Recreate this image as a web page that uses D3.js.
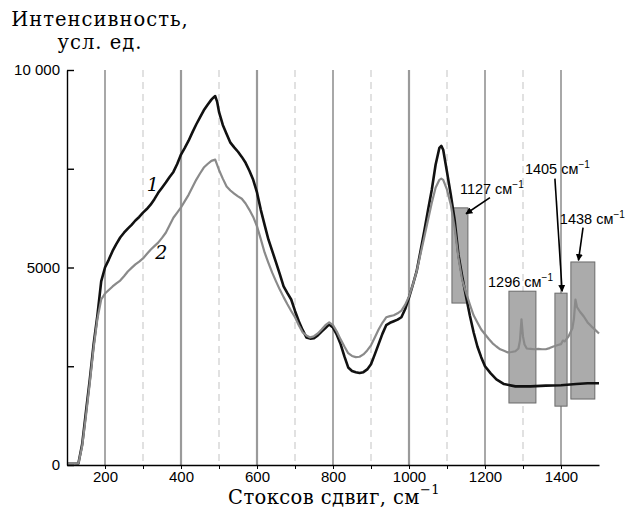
<!DOCTYPE html>
<html>
<head>
<meta charset="utf-8">
<script src="https://cdn.jsdelivr.net/npm/d3@7"></script>
<style>
  body { margin: 0; background: #fff; }
  svg { display: block; }
</style>
</head>
<body>
<script>
// curve 1 (black)
const shift1 = [100, 120, 130, 140, 150, 160, 170, 180, 190, 200, 210, 220, 230, 240, 250, 260, 270, 280, 290, 300,
  310, 320, 330, 340, 350, 360, 370, 380, 390, 400, 410, 420, 430, 440, 450, 460, 470, 480, 485, 490,
  495, 500, 510, 520, 530, 540, 550, 560, 570, 580, 590, 600, 610, 620, 630, 640, 650, 660, 670, 680,
  690, 700, 710, 720, 730, 740, 750, 760, 770, 780, 790, 800, 810, 820, 830, 840, 850, 860, 870, 880,
  890, 900, 910, 920, 930, 940, 950, 960, 970, 980, 990, 1000, 1010, 1020, 1030, 1040, 1050, 1060, 1070, 1080,
  1085, 1090, 1100, 1110, 1120, 1130, 1140, 1150, 1160, 1170, 1180, 1190, 1200, 1215, 1230, 1250, 1280, 1320, 1360, 1400,
  1440, 1470, 1500]
const intensity1 = [30, 30, 40, 530, 1360, 2170, 3055, 3790, 4650, 5000, 5200, 5420, 5600, 5760, 5880, 5985, 6080, 6190, 6280, 6390,
  6480, 6590, 6730, 6890, 7020, 7150, 7290, 7420, 7620, 7860, 8030, 8210, 8420, 8620, 8800, 8980, 9120, 9250, 9300, 9340,
  9200, 8940, 8610, 8380, 8160, 8040, 7930, 7800, 7650, 7450, 7220, 6900, 6460, 6080, 5710, 5420, 5130, 4830, 4520, 4350,
  4190, 3900, 3640, 3420, 3230, 3200, 3210, 3280, 3380, 3470, 3560, 3480, 3300, 3060, 2750, 2470, 2380, 2350, 2330, 2350,
  2420, 2550, 2800, 3060, 3320, 3540, 3600, 3640, 3680, 3740, 3950, 4240, 4560, 4900, 5400, 5910, 6450, 6970, 7600, 8030,
  8080, 7980, 7420, 6840, 6210, 5330, 4770, 4270, 3790, 3360, 3000, 2730, 2500, 2320, 2170, 2050, 1990, 1990, 2010, 2020,
  2050, 2070, 2070]

// curve 2 (grey)
const shift2 = [100, 120, 130, 140, 150, 160, 170, 180, 190, 200, 210, 220, 230, 240, 250, 260, 270, 280, 290, 300,
  310, 320, 330, 340, 350, 360, 370, 380, 390, 400, 410, 420, 430, 440, 450, 460, 470, 480, 490, 500,
  510, 520, 530, 540, 550, 560, 570, 580, 590, 600, 610, 620, 630, 640, 650, 660, 670, 680, 690, 700,
  710, 720, 730, 740, 750, 760, 770, 780, 790, 800, 810, 820, 830, 840, 850, 860, 870, 880, 890, 900,
  910, 920, 930, 940, 950, 960, 970, 980, 990, 1000, 1010, 1020, 1030, 1040, 1050, 1060, 1070, 1080, 1085, 1090,
  1100, 1110, 1120, 1130, 1140, 1150, 1160, 1170, 1180, 1190, 1200, 1210, 1220, 1230, 1240, 1250, 1260, 1270, 1280, 1288,
  1292, 1296, 1300, 1304, 1310, 1320, 1330, 1340, 1350, 1360, 1370, 1380, 1390, 1400, 1405, 1410, 1420, 1430, 1434, 1438,
  1442, 1450, 1460, 1470, 1480, 1490, 1500]
const intensity2 = [30, 30, 40, 480, 1250, 2080, 2960, 3700, 4190, 4340, 4430, 4520, 4600, 4670, 4780, 4900, 4990, 5080, 5150, 5230,
  5340, 5450, 5540, 5630, 5750, 5880, 6070, 6260, 6390, 6520, 6680, 6840, 7030, 7220, 7380, 7530, 7620, 7700, 7730, 7470,
  7250, 7050, 6950, 6870, 6800, 6740, 6620, 6460, 6280, 6040, 5720, 5380, 5120, 4870, 4650, 4440, 4250, 4070, 3900, 3740,
  3540, 3360, 3280, 3230, 3260, 3330, 3430, 3540, 3610, 3540, 3380, 3180, 3000, 2830, 2760, 2730, 2740, 2800, 2900, 3030,
  3230, 3430, 3600, 3740, 3770, 3790, 3840, 3910, 4060, 4270, 4560, 4900, 5330, 5760, 6200, 6640, 7020, 7220, 7250, 7220,
  6970, 6590, 6000, 5250, 4680, 4370, 4070, 3790, 3610, 3430, 3310, 3190, 3080, 3000, 2930, 2890, 2850, 2860, 2880, 2950,
  3150, 3690, 3250, 3050, 2950, 2940, 2930, 2940, 2930, 2930, 2960, 3000, 3030, 3060, 3150, 3130, 3260, 3460, 3700, 4190,
  4000, 3880, 3760, 3610, 3510, 3420, 3330]

// highlighted bands: label, shift range, intensity range
const bandNames = ['1127', '1296', '1405', '1438']
const bandFrom = [1113, 1263, 1384, 1426]
const bandTo = [1155, 1334, 1416, 1489]
const bandLow = [4100, 1570, 1490, 1670]
const bandHigh = [6510, 4400, 4350, 5140]

const majorGrid = [200, 400, 600, 800, 1000, 1200, 1400]
const minorGrid = [300, 500, 700, 900, 1100, 1300]
const yTicks = [0, 2500, 5000, 7500, 10000]
const yTickLabels = ['0', '', '5000', '', '10 000']

const width = 626
const height = 512

const svg = d3.select('body')
  .append('svg')
  .attr('width', width)
  .attr('height', height)

const xScale = d3.scaleLinear().domain([100, 1500]).range([67, 599])
const yScale = d3.scaleLinear().domain([0, 10000]).range([465, 70])

const defs = svg.append('defs')
defs.append('marker')
  .attr('id', 'arrow')
  .attr('viewBox', '0 0 10 10')
  .attr('refX', 9)
  .attr('refY', 5)
  .attr('markerWidth', 7)
  .attr('markerHeight', 7)
  .attr('markerUnits', 'userSpaceOnUse')
  .attr('orient', 'auto')
  .append('path')
  .attr('d', 'M0,0 L10,5 L0,10 z')
  .attr('fill', '#000')

// grid
const thick = [400, 600, 1000]
svg.append('g').selectAll('line')
  .data(majorGrid)
  .enter()
  .append('line')
  .attr('x1', d => xScale(d))
  .attr('x2', d => xScale(d))
  .attr('y1', yScale(10000))
  .attr('y2', yScale(0))
  .attr('stroke', d => thick.includes(d) ? '#9a9a9a' : '#6e6e6e')
  .attr('stroke-width', d => thick.includes(d) ? 2.2 : 1.2)

svg.append('g').selectAll('line')
  .data(minorGrid)
  .enter()
  .append('line')
  .attr('x1', d => xScale(d))
  .attr('x2', d => xScale(d))
  .attr('y1', yScale(10000))
  .attr('y2', yScale(0))
  .attr('stroke', '#d2d2d2')
  .attr('stroke-width', 1.3)
  .attr('stroke-dasharray', '7,5')

// bands
svg.append('g').selectAll('rect')
  .data(bandNames)
  .enter()
  .append('rect')
  .attr('x', (d, i) => xScale(bandFrom[i]))
  .attr('y', (d, i) => yScale(bandHigh[i]))
  .attr('width', (d, i) => xScale(bandTo[i]) - xScale(bandFrom[i]))
  .attr('height', (d, i) => yScale(bandLow[i]) - yScale(bandHigh[i]))
  .attr('fill', '#ababab')
  .attr('stroke', '#6a6a6a')
  .attr('stroke-width', 1)

// curves
const line = d3.line()
  .x(d => xScale(d[0]))
  .y(d => yScale(d[1]))

svg.append('path')
  .datum(d3.zip(shift1, intensity1))
  .attr('d', line)
  .attr('fill', 'none')
  .attr('stroke', '#111')
  .attr('stroke-width', 2.6)
  .attr('stroke-linejoin', 'round')

svg.append('path')
  .datum(d3.zip(shift2, intensity2))
  .attr('d', line)
  .attr('fill', 'none')
  .attr('stroke', '#8a8a8a')
  .attr('stroke-width', 2.2)
  .attr('stroke-linejoin', 'round')

// axes
const xAxis = svg.append('g')
  .attr('transform', `translate(0, ${yScale(0)})`)
  .call(d3.axisBottom(xScale)
    .tickValues(d3.merge([majorGrid, minorGrid]))
    .tickSize(4)
    .tickSizeOuter(0)
    .tickPadding(2)
    .tickFormat(d => majorGrid.includes(d) ? d : ''))
xAxis.select('.domain').attr('stroke-width', 1.4)
xAxis.selectAll('text')
  .attr('font-family', '"Liberation Sans", Arial, sans-serif')
  .attr('font-size', '15px')
  .attr('fill', '#000')

const yAxis = svg.append('g')
  .attr('transform', `translate(${xScale(100)}, 0)`)
  .call(d3.axisLeft(yScale)
    .tickValues(yTicks)
    .tickSize(-7)
    .tickSizeOuter(0)
    .tickPadding(7)
    .tickFormat((d, i) => yTickLabels[i]))
yAxis.select('.domain').attr('stroke-width', 1.4)
yAxis.selectAll('line').attr('stroke-width', 1.4)
yAxis.selectAll('text')
  .attr('font-family', '"Liberation Sans", Arial, sans-serif')
  .attr('font-size', '15px')
  .attr('fill', '#000')

// titles
const serif = '"DejaVu Serif", "Liberation Serif", serif'
svg.append('text')
  .attr('x', 100).attr('y', 26)
  .attr('text-anchor', 'middle')
  .attr('font-family', serif)
  .attr('font-size', '19.5px')
  .attr('letter-spacing', '1px')
  .text('Интенсивность,')
svg.append('text')
  .attr('x', 100).attr('y', 49)
  .attr('text-anchor', 'middle')
  .attr('font-family', serif)
  .attr('font-size', '19.5px')
  .attr('letter-spacing', '1px')
  .text('усл. ед.')

const xTitle = svg.append('text')
  .attr('x', 334).attr('y', 504)
  .attr('text-anchor', 'middle')
  .attr('font-family', serif)
  .attr('font-size', '19.5px')
  .attr('letter-spacing', '0.4px')
xTitle.append('tspan').text('Стоксов  сдвиг, см')
xTitle.append('tspan').attr('dy', -10).attr('font-size', '13px').text('−1')

// curve numbers
svg.append('text')
  .attr('x', xScale(310)).attr('y', yScale(6940))
  .attr('font-family', serif)
  .attr('font-style', 'italic')
  .attr('font-size', '19px')
  .text('1')
svg.append('text')
  .attr('x', xScale(332)).attr('y', yScale(5215))
  .attr('font-family', serif)
  .attr('font-style', 'italic')
  .attr('font-size', '19px')
  .text('2')

// band annotations: text anchor (shift, intensity), arrow start and end
const notes = [
  { name: '1127', at: [1134, 6870], from: [1213, 6770], to: [1150, 6360] },
  { name: '1296', at: [1208, 4500] },
  { name: '1405', at: [1305, 7370], from: [1384, 7250], to: [1403, 4400] },
  { name: '1438', at: [1397, 6110], from: [1458, 6010], to: [1446, 5180] }
]

notes.forEach(n => {
  const t = svg.append('text')
    .attr('x', xScale(n.at[0])).attr('y', yScale(n.at[1]))
    .attr('font-family', '"Liberation Sans", Arial, sans-serif')
    .attr('font-size', '14.5px')
  t.append('tspan').text(n.name + ' см')
  t.append('tspan').attr('dy', -6).attr('font-size', '10px').text('−1')
  if (n.from) {
    svg.append('line')
      .attr('x1', xScale(n.from[0])).attr('y1', yScale(n.from[1]))
      .attr('x2', xScale(n.to[0])).attr('y2', yScale(n.to[1]))
      .attr('stroke', '#000')
      .attr('stroke-width', 1.6)
      .attr('marker-end', 'url(#arrow)')
  }
})
</script>
</body>
</html>
